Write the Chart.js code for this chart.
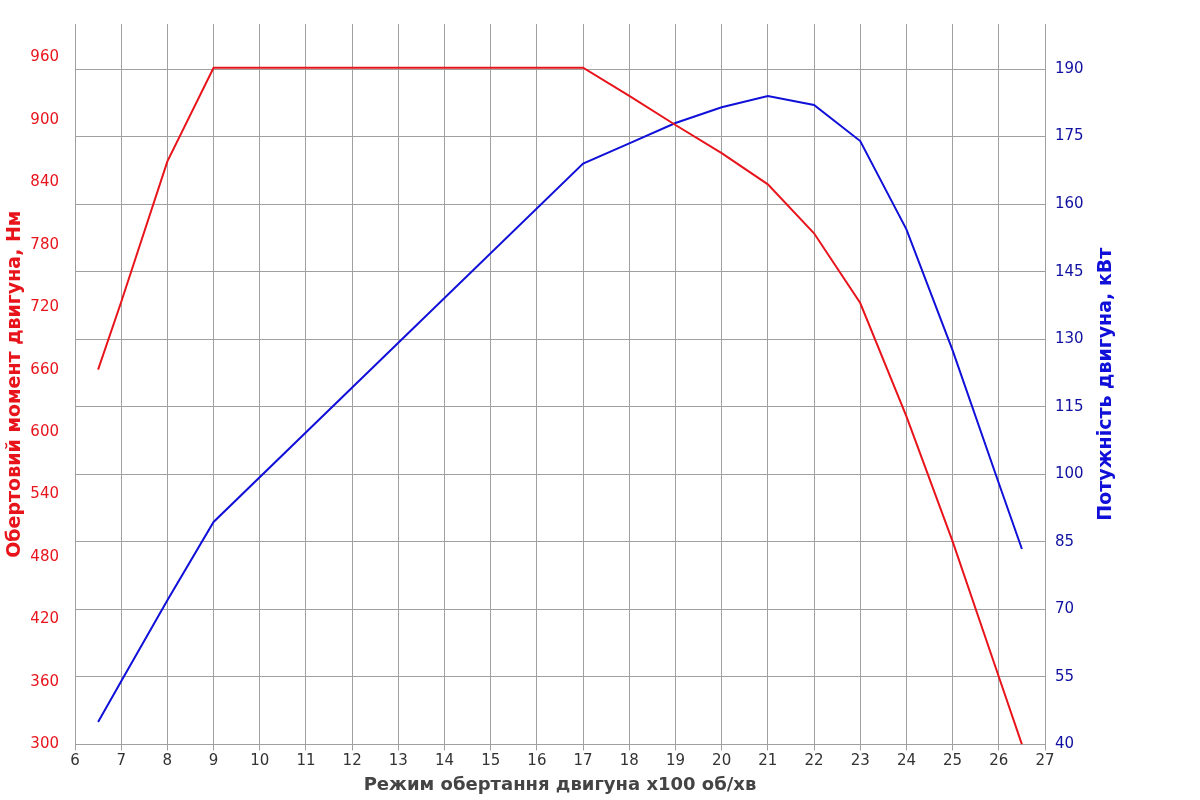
<!DOCTYPE html>
<html>
<head>
<meta charset="utf-8">
<script src="https://cdn.jsdelivr.net/npm/chart.js@4"></script>
<style>
  body { margin: 0; background: #fff; }
  #wrap { width: 1200px; height: 800px; }
</style>
</head>
<body>
<div id="wrap"><canvas id="chart"></canvas></div>
<script>
// engine speed, x100 rpm
const rpm = [6.5, 7, 8, 9, 17, 18, 19, 20, 21, 22, 23, 24, 25, 26, 26.5];
// torque, Nm
const torque = [660, 725, 860, 950, 950, 923, 895, 868, 838, 791, 724, 615, 495, 365, 300];
// power, kW
const power = [45, 54, 72, 89.4, 169, 173.5, 178, 181.5, 184, 182, 174, 154.4, 127.5, 98, 83.4];

const torqueTicks = [300, 360, 420, 480, 540, 600, 660, 720, 780, 840, 900, 960];
const powerTicks = [40, 55, 70, 85, 100, 115, 130, 145, 160, 175, 190];

const font = "Verdana, 'DejaVu Sans', sans-serif";

// right axis title, read bottom-to-top like the left one
const rightTitle = {
    id: "rightTitle",
    afterDraw(chart) {
        const ctx = chart.ctx;
        const area = chart.chartArea;
        ctx.save();
        ctx.translate(1106, (area.top + area.bottom) / 2);
        ctx.rotate(-Math.PI / 2);
        ctx.textAlign = "center";
        ctx.textBaseline = "middle";
        ctx.fillStyle = "#1010d8";
        ctx.font = "bold 19px " + font;
        ctx.fillText("Потужність двигуна, кВт", 0, 0);
        ctx.restore();
    }
};

new Chart(document.getElementById("chart"), {
    type: "line",
    data: {
        datasets: [
            {
                data: rpm.map((x, i) => ({ x: x, y: torque[i] })),
                borderColor: "#e8141b",
                borderWidth: 2,
                pointRadius: 0,
                tension: 0,
                yAxisID: "y"
            },
            {
                data: rpm.map((x, i) => ({ x: x, y: power[i] })),
                borderColor: "#1010d8",
                borderWidth: 2,
                pointRadius: 0,
                tension: 0,
                yAxisID: "y1"
            }
        ]
    },
    plugins: [rightTitle],
    options: {
        responsive: true,
        maintainAspectRatio: false,
        animation: false,
        layout: { padding: { top: 24, right: 100, left: 0, bottom: 0 } },
        plugins: { legend: { display: false }, tooltip: { enabled: false } },
        scales: {
            x: {
                type: "linear",
                min: 6,
                max: 27,
                afterBuildTicks: (s) => { s.ticks = []; for (let v = 6; v <= 27; v++) s.ticks.push({ value: v }); },
                grid: { color: "#a0a0a0", drawTicks: true, tickLength: 6 },
                border: { color: "#a0a0a0" },
                ticks: { color: "#333", font: { family: font, size: 15 }, padding: 2, maxRotation: 0 },
                title: {
                    display: true,
                    text: "Режим обертання двигуна x100 об/хв",
                    color: "#444",
                    font: { family: font, size: 18, weight: "bold" },
                    padding: { top: 2 }
                }
            },
            y: {
                position: "left",
                min: 300,
                max: 992,
                afterBuildTicks: (s) => { s.ticks = torqueTicks.map(v => ({ value: v })); },
                afterFit: (s) => { s.width = 75; },
                grid: { display: false },
                border: { color: "#a0a0a0" },
                ticks: { color: "#e8141b", font: { family: font, size: 15 }, padding: 8 },
                title: {
                    display: true,
                    text: "Обертовий момент двигуна, Нм",
                    color: "#e8141b",
                    font: { family: font, size: 19, weight: "bold" },
                    padding: { bottom: 2 }
                }
            },
            y1: {
                position: "right",
                min: 40,
                max: 200,
                afterBuildTicks: (s) => { s.ticks = powerTicks.map(v => ({ value: v })); },
                afterFit: (s) => { s.width = 55; },
                grid: { color: "#a0a0a0", tickLength: 0 },
                border: { color: "#a0a0a0" },
                ticks: { color: "#1010a0", font: { family: font, size: 15 }, padding: 10 },
                title: { display: false }
            }
        }
    }
});
</script>
</body>
</html>
